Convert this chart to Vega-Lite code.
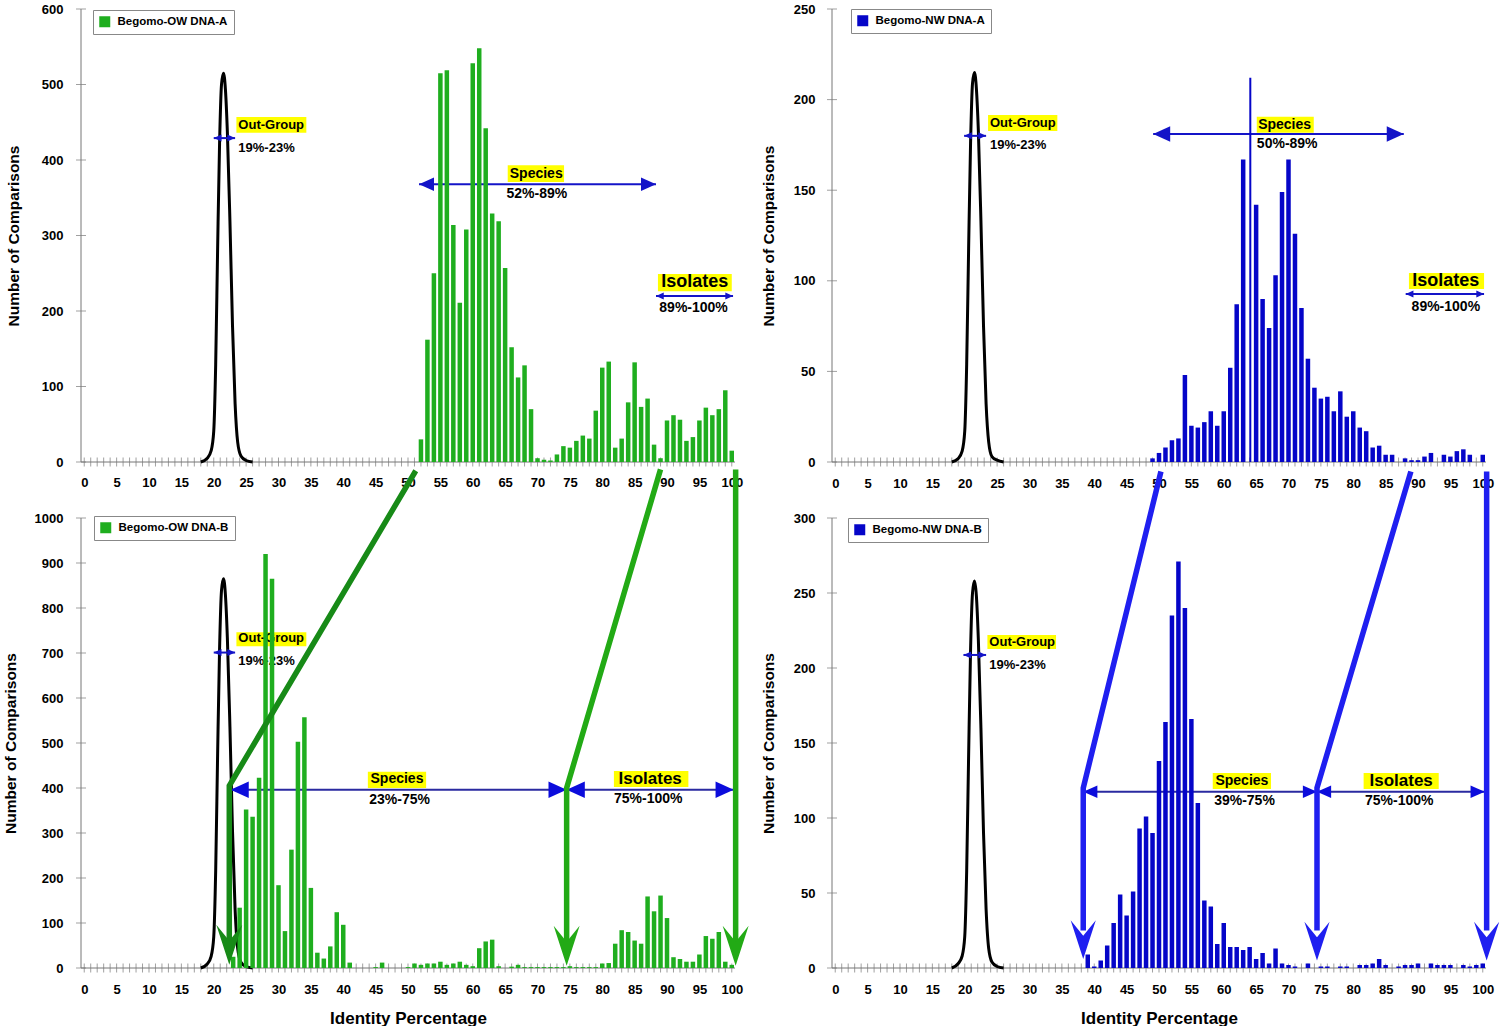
{
  "$schema": "https://vega.github.io/schema/vega-lite/v6.json",
  "padding": {"left": 3, "top": 3, "right": 0, "bottom": 0},
  "background": "white",
  "datasets": {
    "xt": [
      {"x": 0}, {"x": 1}, {"x": 2}, {"x": 3}, {"x": 4}, {"x": 5}, {"x": 6}, {"x": 7}, {"x": 8}, {"x": 9},
      {"x": 10}, {"x": 11}, {"x": 12}, {"x": 13}, {"x": 14}, {"x": 15}, {"x": 16}, {"x": 17}, {"x": 18}, {"x": 19},
      {"x": 20}, {"x": 21}, {"x": 22}, {"x": 23}, {"x": 24}, {"x": 25}, {"x": 26}, {"x": 27}, {"x": 28}, {"x": 29},
      {"x": 30}, {"x": 31}, {"x": 32}, {"x": 33}, {"x": 34}, {"x": 35}, {"x": 36}, {"x": 37}, {"x": 38}, {"x": 39},
      {"x": 40}, {"x": 41}, {"x": 42}, {"x": 43}, {"x": 44}, {"x": 45}, {"x": 46}, {"x": 47}, {"x": 48}, {"x": 49},
      {"x": 50}, {"x": 51}, {"x": 52}, {"x": 53}, {"x": 54}, {"x": 55}, {"x": 56}, {"x": 57}, {"x": 58}, {"x": 59},
      {"x": 60}, {"x": 61}, {"x": 62}, {"x": 63}, {"x": 64}, {"x": 65}, {"x": 66}, {"x": 67}, {"x": 68}, {"x": 69},
      {"x": 70}, {"x": 71}, {"x": 72}, {"x": 73}, {"x": 74}, {"x": 75}, {"x": 76}, {"x": 77}, {"x": 78}, {"x": 79},
      {"x": 80}, {"x": 81}, {"x": 82}, {"x": 83}, {"x": 84}, {"x": 85}, {"x": 86}, {"x": 87}, {"x": 88}, {"x": 89},
      {"x": 90}, {"x": 91}, {"x": 92}, {"x": 93}, {"x": 94}, {"x": 95}, {"x": 96}, {"x": 97}, {"x": 98}, {"x": 99},
      {"x": 100}
    ],
    "yt": [
      {"p": "TL", "y": 0}, {"p": "TL", "y": 100}, {"p": "TL", "y": 200}, {"p": "TL", "y": 300}, {"p": "TL", "y": 400}, {"p": "TL", "y": 500}, {"p": "TL", "y": 600},
      {"p": "TR", "y": 0}, {"p": "TR", "y": 50}, {"p": "TR", "y": 100}, {"p": "TR", "y": 150}, {"p": "TR", "y": 200}, {"p": "TR", "y": 250},
      {"p": "BL", "y": 0}, {"p": "BL", "y": 100}, {"p": "BL", "y": 200}, {"p": "BL", "y": 300}, {"p": "BL", "y": 400}, {"p": "BL", "y": 500},
      {"p": "BL", "y": 600}, {"p": "BL", "y": 700}, {"p": "BL", "y": 800}, {"p": "BL", "y": 900}, {"p": "BL", "y": 1000},
      {"p": "BR", "y": 0}, {"p": "BR", "y": 50}, {"p": "BR", "y": 100}, {"p": "BR", "y": 150}, {"p": "BR", "y": 200}, {"p": "BR", "y": 250}, {"p": "BR", "y": 300}
    ],
    "bars": [
      {"p": "TL", "x": 52, "y": 30}, {"p": "TL", "x": 53, "y": 162}, {"p": "TL", "x": 54, "y": 250}, {"p": "TL", "x": 55, "y": 515},
      {"p": "TL", "x": 56, "y": 519}, {"p": "TL", "x": 57, "y": 314}, {"p": "TL", "x": 58, "y": 211}, {"p": "TL", "x": 59, "y": 308},
      {"p": "TL", "x": 60, "y": 528}, {"p": "TL", "x": 61, "y": 548}, {"p": "TL", "x": 62, "y": 442}, {"p": "TL", "x": 63, "y": 329},
      {"p": "TL", "x": 64, "y": 319}, {"p": "TL", "x": 65, "y": 257}, {"p": "TL", "x": 66, "y": 152}, {"p": "TL", "x": 67, "y": 112},
      {"p": "TL", "x": 68, "y": 128}, {"p": "TL", "x": 69, "y": 70}, {"p": "TL", "x": 70, "y": 5}, {"p": "TL", "x": 71, "y": 3},
      {"p": "TL", "x": 72, "y": 2}, {"p": "TL", "x": 73, "y": 10}, {"p": "TL", "x": 74, "y": 21}, {"p": "TL", "x": 75, "y": 19},
      {"p": "TL", "x": 76, "y": 28}, {"p": "TL", "x": 77, "y": 35}, {"p": "TL", "x": 78, "y": 31}, {"p": "TL", "x": 79, "y": 68},
      {"p": "TL", "x": 80, "y": 125}, {"p": "TL", "x": 81, "y": 133}, {"p": "TL", "x": 82, "y": 19}, {"p": "TL", "x": 83, "y": 31},
      {"p": "TL", "x": 84, "y": 79}, {"p": "TL", "x": 85, "y": 132}, {"p": "TL", "x": 86, "y": 73}, {"p": "TL", "x": 87, "y": 84},
      {"p": "TL", "x": 88, "y": 23}, {"p": "TL", "x": 89, "y": 5}, {"p": "TL", "x": 90, "y": 55}, {"p": "TL", "x": 91, "y": 62},
      {"p": "TL", "x": 92, "y": 56}, {"p": "TL", "x": 93, "y": 28}, {"p": "TL", "x": 94, "y": 33}, {"p": "TL", "x": 95, "y": 55},
      {"p": "TL", "x": 96, "y": 72}, {"p": "TL", "x": 97, "y": 62}, {"p": "TL", "x": 98, "y": 70}, {"p": "TL", "x": 99, "y": 95},
      {"p": "TL", "x": 100, "y": 15},
      {"p": "TR", "x": 49, "y": 2}, {"p": "TR", "x": 50, "y": 5}, {"p": "TR", "x": 51, "y": 8}, {"p": "TR", "x": 52, "y": 12},
      {"p": "TR", "x": 53, "y": 13}, {"p": "TR", "x": 54, "y": 48}, {"p": "TR", "x": 55, "y": 20}, {"p": "TR", "x": 56, "y": 19},
      {"p": "TR", "x": 57, "y": 22}, {"p": "TR", "x": 58, "y": 28}, {"p": "TR", "x": 59, "y": 20}, {"p": "TR", "x": 60, "y": 28},
      {"p": "TR", "x": 61, "y": 52}, {"p": "TR", "x": 62, "y": 87}, {"p": "TR", "x": 63, "y": 167}, {"p": "TR", "x": 65, "y": 142},
      {"p": "TR", "x": 66, "y": 90}, {"p": "TR", "x": 67, "y": 74}, {"p": "TR", "x": 68, "y": 103}, {"p": "TR", "x": 69, "y": 149},
      {"p": "TR", "x": 70, "y": 167}, {"p": "TR", "x": 71, "y": 126}, {"p": "TR", "x": 72, "y": 85}, {"p": "TR", "x": 73, "y": 57},
      {"p": "TR", "x": 74, "y": 41}, {"p": "TR", "x": 75, "y": 35}, {"p": "TR", "x": 76, "y": 36}, {"p": "TR", "x": 77, "y": 28},
      {"p": "TR", "x": 78, "y": 39}, {"p": "TR", "x": 79, "y": 25}, {"p": "TR", "x": 80, "y": 28}, {"p": "TR", "x": 81, "y": 19},
      {"p": "TR", "x": 82, "y": 17}, {"p": "TR", "x": 83, "y": 8}, {"p": "TR", "x": 84, "y": 9}, {"p": "TR", "x": 85, "y": 4},
      {"p": "TR", "x": 86, "y": 4}, {"p": "TR", "x": 88, "y": 2}, {"p": "TR", "x": 89, "y": 1}, {"p": "TR", "x": 90, "y": 1},
      {"p": "TR", "x": 91, "y": 3}, {"p": "TR", "x": 92, "y": 5}, {"p": "TR", "x": 94, "y": 4}, {"p": "TR", "x": 95, "y": 3},
      {"p": "TR", "x": 96, "y": 6}, {"p": "TR", "x": 97, "y": 7}, {"p": "TR", "x": 98, "y": 4}, {"p": "TR", "x": 100, "y": 4},
      {"p": "BL", "x": 23, "y": 25}, {"p": "BL", "x": 24, "y": 134}, {"p": "BL", "x": 25, "y": 352}, {"p": "BL", "x": 26, "y": 336},
      {"p": "BL", "x": 27, "y": 423}, {"p": "BL", "x": 28, "y": 920}, {"p": "BL", "x": 29, "y": 865}, {"p": "BL", "x": 30, "y": 184},
      {"p": "BL", "x": 31, "y": 82}, {"p": "BL", "x": 32, "y": 263}, {"p": "BL", "x": 33, "y": 503}, {"p": "BL", "x": 34, "y": 557},
      {"p": "BL", "x": 35, "y": 178}, {"p": "BL", "x": 36, "y": 34}, {"p": "BL", "x": 37, "y": 21}, {"p": "BL", "x": 38, "y": 48},
      {"p": "BL", "x": 39, "y": 124}, {"p": "BL", "x": 40, "y": 96}, {"p": "BL", "x": 41, "y": 12}, {"p": "BL", "x": 45, "y": 2},
      {"p": "BL", "x": 46, "y": 12}, {"p": "BL", "x": 50, "y": 2}, {"p": "BL", "x": 51, "y": 10}, {"p": "BL", "x": 52, "y": 7},
      {"p": "BL", "x": 53, "y": 10}, {"p": "BL", "x": 54, "y": 10}, {"p": "BL", "x": 55, "y": 14}, {"p": "BL", "x": 56, "y": 7},
      {"p": "BL", "x": 57, "y": 10}, {"p": "BL", "x": 58, "y": 14}, {"p": "BL", "x": 59, "y": 7}, {"p": "BL", "x": 60, "y": 4},
      {"p": "BL", "x": 61, "y": 44}, {"p": "BL", "x": 62, "y": 59}, {"p": "BL", "x": 63, "y": 63}, {"p": "BL", "x": 64, "y": 4},
      {"p": "BL", "x": 66, "y": 3}, {"p": "BL", "x": 67, "y": 7}, {"p": "BL", "x": 68, "y": 2}, {"p": "BL", "x": 69, "y": 2},
      {"p": "BL", "x": 70, "y": 2}, {"p": "BL", "x": 71, "y": 2}, {"p": "BL", "x": 72, "y": 2}, {"p": "BL", "x": 73, "y": 2},
      {"p": "BL", "x": 74, "y": 2}, {"p": "BL", "x": 75, "y": 4}, {"p": "BL", "x": 76, "y": 2}, {"p": "BL", "x": 77, "y": 2},
      {"p": "BL", "x": 78, "y": 2}, {"p": "BL", "x": 79, "y": 2}, {"p": "BL", "x": 80, "y": 10}, {"p": "BL", "x": 81, "y": 11},
      {"p": "BL", "x": 82, "y": 54}, {"p": "BL", "x": 83, "y": 84}, {"p": "BL", "x": 84, "y": 80}, {"p": "BL", "x": 85, "y": 61},
      {"p": "BL", "x": 86, "y": 54}, {"p": "BL", "x": 87, "y": 159}, {"p": "BL", "x": 88, "y": 126}, {"p": "BL", "x": 89, "y": 161},
      {"p": "BL", "x": 90, "y": 111}, {"p": "BL", "x": 91, "y": 24}, {"p": "BL", "x": 92, "y": 20}, {"p": "BL", "x": 93, "y": 14},
      {"p": "BL", "x": 94, "y": 14}, {"p": "BL", "x": 95, "y": 30}, {"p": "BL", "x": 96, "y": 71}, {"p": "BL", "x": 97, "y": 65},
      {"p": "BL", "x": 98, "y": 80}, {"p": "BL", "x": 99, "y": 14}, {"p": "BL", "x": 100, "y": 7},
      {"p": "BR", "x": 39, "y": 9}, {"p": "BR", "x": 40, "y": 1}, {"p": "BR", "x": 41, "y": 5}, {"p": "BR", "x": 42, "y": 15},
      {"p": "BR", "x": 43, "y": 30}, {"p": "BR", "x": 44, "y": 49}, {"p": "BR", "x": 45, "y": 35}, {"p": "BR", "x": 46, "y": 51},
      {"p": "BR", "x": 47, "y": 93}, {"p": "BR", "x": 48, "y": 101}, {"p": "BR", "x": 49, "y": 90}, {"p": "BR", "x": 50, "y": 138},
      {"p": "BR", "x": 51, "y": 164}, {"p": "BR", "x": 52, "y": 235}, {"p": "BR", "x": 53, "y": 271}, {"p": "BR", "x": 54, "y": 240},
      {"p": "BR", "x": 55, "y": 166}, {"p": "BR", "x": 56, "y": 110}, {"p": "BR", "x": 57, "y": 45}, {"p": "BR", "x": 58, "y": 41},
      {"p": "BR", "x": 59, "y": 16}, {"p": "BR", "x": 60, "y": 30}, {"p": "BR", "x": 61, "y": 14}, {"p": "BR", "x": 62, "y": 14},
      {"p": "BR", "x": 63, "y": 12}, {"p": "BR", "x": 64, "y": 14}, {"p": "BR", "x": 65, "y": 6}, {"p": "BR", "x": 66, "y": 10},
      {"p": "BR", "x": 67, "y": 3}, {"p": "BR", "x": 68, "y": 13}, {"p": "BR", "x": 69, "y": 3}, {"p": "BR", "x": 70, "y": 2},
      {"p": "BR", "x": 71, "y": 1}, {"p": "BR", "x": 73, "y": 3}, {"p": "BR", "x": 75, "y": 1}, {"p": "BR", "x": 76, "y": 1},
      {"p": "BR", "x": 78, "y": 1}, {"p": "BR", "x": 79, "y": 1}, {"p": "BR", "x": 81, "y": 2}, {"p": "BR", "x": 82, "y": 2},
      {"p": "BR", "x": 83, "y": 3}, {"p": "BR", "x": 84, "y": 6}, {"p": "BR", "x": 85, "y": 2}, {"p": "BR", "x": 87, "y": 1},
      {"p": "BR", "x": 88, "y": 2}, {"p": "BR", "x": 89, "y": 2}, {"p": "BR", "x": 90, "y": 3}, {"p": "BR", "x": 92, "y": 3},
      {"p": "BR", "x": 93, "y": 2}, {"p": "BR", "x": 94, "y": 2}, {"p": "BR", "x": 95, "y": 2}, {"p": "BR", "x": 97, "y": 2},
      {"p": "BR", "x": 98, "y": 1}, {"p": "BR", "x": 99, "y": 2}, {"p": "BR", "x": 100, "y": 3}
    ],
    "curve": [
      {"p": "TL", "x": 18, "y": 0}, {"p": "TL", "x": 19, "y": 5}, {"p": "TL", "x": 19.6, "y": 15}, {"p": "TL", "x": 20, "y": 41},
      {"p": "TL", "x": 20.3, "y": 129}, {"p": "TL", "x": 20.6, "y": 283}, {"p": "TL", "x": 20.9, "y": 422}, {"p": "TL", "x": 21.2, "y": 500},
      {"p": "TL", "x": 21.5, "y": 515}, {"p": "TL", "x": 21.8, "y": 494}, {"p": "TL", "x": 22.1, "y": 438}, {"p": "TL", "x": 22.5, "y": 319},
      {"p": "TL", "x": 22.9, "y": 180}, {"p": "TL", "x": 23.3, "y": 77}, {"p": "TL", "x": 23.7, "y": 26}, {"p": "TL", "x": 24.2, "y": 8},
      {"p": "TL", "x": 25, "y": 2}, {"p": "TL", "x": 26, "y": 0},
      {"p": "TR", "x": 18, "y": 0}, {"p": "TR", "x": 19, "y": 2}, {"p": "TR", "x": 19.6, "y": 6}, {"p": "TR", "x": 20, "y": 17},
      {"p": "TR", "x": 20.3, "y": 54}, {"p": "TR", "x": 20.6, "y": 118}, {"p": "TR", "x": 20.9, "y": 176}, {"p": "TR", "x": 21.2, "y": 209},
      {"p": "TR", "x": 21.5, "y": 215}, {"p": "TR", "x": 21.8, "y": 206}, {"p": "TR", "x": 22.1, "y": 183}, {"p": "TR", "x": 22.5, "y": 133},
      {"p": "TR", "x": 22.9, "y": 75}, {"p": "TR", "x": 23.3, "y": 32}, {"p": "TR", "x": 23.7, "y": 11}, {"p": "TR", "x": 24.2, "y": 3},
      {"p": "TR", "x": 25, "y": 1}, {"p": "TR", "x": 26, "y": 0},
      {"p": "BL", "x": 18, "y": 0}, {"p": "BL", "x": 19, "y": 9}, {"p": "BL", "x": 19.6, "y": 26}, {"p": "BL", "x": 20, "y": 69},
      {"p": "BL", "x": 20.3, "y": 216}, {"p": "BL", "x": 20.6, "y": 476}, {"p": "BL", "x": 20.9, "y": 709}, {"p": "BL", "x": 21.2, "y": 839},
      {"p": "BL", "x": 21.5, "y": 865}, {"p": "BL", "x": 21.8, "y": 830}, {"p": "BL", "x": 22.1, "y": 735}, {"p": "BL", "x": 22.5, "y": 536},
      {"p": "BL", "x": 22.9, "y": 303}, {"p": "BL", "x": 23.3, "y": 130}, {"p": "BL", "x": 23.7, "y": 43}, {"p": "BL", "x": 24.2, "y": 13},
      {"p": "BL", "x": 25, "y": 3}, {"p": "BL", "x": 26, "y": 0},
      {"p": "BR", "x": 18, "y": 0}, {"p": "BR", "x": 19, "y": 3}, {"p": "BR", "x": 19.6, "y": 8}, {"p": "BR", "x": 20, "y": 21},
      {"p": "BR", "x": 20.3, "y": 65}, {"p": "BR", "x": 20.6, "y": 142}, {"p": "BR", "x": 20.9, "y": 212}, {"p": "BR", "x": 21.2, "y": 250},
      {"p": "BR", "x": 21.5, "y": 258}, {"p": "BR", "x": 21.8, "y": 248}, {"p": "BR", "x": 22.1, "y": 219}, {"p": "BR", "x": 22.5, "y": 160},
      {"p": "BR", "x": 22.9, "y": 90}, {"p": "BR", "x": 23.3, "y": 39}, {"p": "BR", "x": 23.7, "y": 13}, {"p": "BR", "x": 24.2, "y": 4},
      {"p": "BR", "x": 25, "y": 1}, {"p": "BR", "x": 26, "y": 0}
    ],
    "spans": [
      {"p": "TL", "k": "out", "x": 20.0, "x2": 23.3, "y": 429},
      {"p": "TL", "k": "sp", "x": 51.7, "x2": 88.3, "y": 368},
      {"p": "TL", "k": "iso", "x": 88.3, "x2": 100.2, "y": 220},
      {"p": "TR", "k": "out", "x": 19.9, "x2": 23.3, "y": 180},
      {"p": "TR", "k": "sp", "x": 49.1, "x2": 87.8, "y": 181},
      {"p": "TR", "k": "iso", "x": 88.1, "x2": 100.2, "y": 92.7},
      {"p": "BL", "k": "out", "x": 20.0, "x2": 23.3, "y": 701},
      {"p": "BL", "k": "sp", "x": 22.6, "x2": 74.5, "y": 396},
      {"p": "BL", "k": "iso", "x": 74.5, "x2": 100.3, "y": 396},
      {"p": "BR", "k": "out", "x": 19.8, "x2": 23.3, "y": 208.7},
      {"p": "BR", "k": "sp", "x": 38.3, "x2": 74.4, "y": 117.5},
      {"p": "BR", "k": "iso", "x": 74.4, "x2": 100.3, "y": 117.5}
    ],
    "boxes": [
      {"p": "TL", "x": 23.5, "x2": 34.3, "y": 436, "y2": 457},
      {"p": "TL", "x": 65.4, "x2": 74.1, "y": 371, "y2": 393},
      {"p": "TL", "x": 88.6, "x2": 100, "y": 226, "y2": 249},
      {"p": "TR", "x": 23.6, "x2": 34.3, "y": 182.7, "y2": 191.5},
      {"p": "TR", "x": 65.1, "x2": 73.9, "y": 181.7, "y2": 190.6},
      {"p": "TR", "x": 88.6, "x2": 100.2, "y": 95.5, "y2": 104.3},
      {"p": "BL", "x": 23.5, "x2": 34.3, "y": 715, "y2": 746},
      {"p": "BL", "x": 43.8, "x2": 52.8, "y": 400, "y2": 436},
      {"p": "BL", "x": 81.8, "x2": 93.3, "y": 402, "y2": 438},
      {"p": "BR", "x": 23.5, "x2": 34.1, "y": 212.7, "y2": 222},
      {"p": "BR", "x": 58.3, "x2": 67.3, "y": 119.3, "y2": 130},
      {"p": "BR", "x": 81.6, "x2": 93.2, "y": 119.3, "y2": 130}
    ],
    "notes": [
      {"p": "TL", "k": "og", "x": 23.8, "y": 446, "t": "Out-Group"},
      {"p": "TL", "k": "ogr", "x": 23.8, "y": 416, "t": "19%-23%"},
      {"p": "TL", "k": "sp", "x": 69.8, "y": 382, "t": "Species"},
      {"p": "TL", "k": "spr", "x": 69.9, "y": 355, "t": "52%-89%"},
      {"p": "TL", "k": "iso", "x": 94.3, "y": 238, "t": "Isolates"},
      {"p": "TL", "k": "isor", "x": 94.1, "y": 204, "t": "89%-100%"},
      {"p": "TR", "k": "og", "x": 23.9, "y": 187, "t": "Out-Group"},
      {"p": "TR", "k": "ogr", "x": 23.9, "y": 175, "t": "19%-23%"},
      {"p": "TR", "k": "sp", "x": 69.4, "y": 186, "t": "Species"},
      {"p": "TR", "k": "spr", "x": 69.8, "y": 175.5, "t": "50%-89%"},
      {"p": "TR", "k": "iso", "x": 94.3, "y": 100, "t": "Isolates"},
      {"p": "TR", "k": "isor", "x": 94.3, "y": 85.7, "t": "89%-100%"},
      {"p": "BL", "k": "og", "x": 23.8, "y": 733, "t": "Out-Group"},
      {"p": "BL", "k": "ogr", "x": 23.8, "y": 681.5, "t": "19%-23%"},
      {"p": "BL", "k": "sp", "x": 48.3, "y": 419, "t": "Species"},
      {"p": "BL", "k": "spr", "x": 48.7, "y": 374, "t": "23%-75%"},
      {"p": "BL", "k": "iso", "x": 87.4, "y": 420, "t": "Isolates"},
      {"p": "BL", "k": "isor", "x": 87.1, "y": 376, "t": "75%-100%"},
      {"p": "BR", "k": "og", "x": 23.8, "y": 217.5, "t": "Out-Group"},
      {"p": "BR", "k": "ogr", "x": 23.8, "y": 202, "t": "19%-23%"},
      {"p": "BR", "k": "sp", "x": 62.8, "y": 124.7, "t": "Species"},
      {"p": "BR", "k": "spr", "x": 63.2, "y": 111.3, "t": "39%-75%"},
      {"p": "BR", "k": "iso", "x": 87.4, "y": 124.7, "t": "Isolates"},
      {"p": "BR", "k": "isor", "x": 87.1, "y": 111.3, "t": "75%-100%"}
    ],
    "jumps": [
      {"p": "BL", "id": "a", "s": 0, "x": 51.2, "y": 1105}, {"p": "BL", "id": "a", "s": 1, "x": 22.4, "y": 405}, {"p": "BL", "id": "a", "s": 2, "x": 22.4, "y": 50},
      {"p": "BL", "id": "b", "s": 0, "x": 89.0, "y": 1108}, {"p": "BL", "id": "b", "s": 1, "x": 74.5, "y": 400}, {"p": "BL", "id": "b", "s": 2, "x": 74.5, "y": 50},
      {"p": "BL", "id": "c", "s": 0, "x": 100.6, "y": 1108}, {"p": "BL", "id": "c", "s": 1, "x": 100.6, "y": 50},
      {"p": "BR", "id": "a", "s": 0, "x": 50.3, "y": 331}, {"p": "BR", "id": "a", "s": 1, "x": 38.3, "y": 120}, {"p": "BR", "id": "a", "s": 2, "x": 38.3, "y": 25},
      {"p": "BR", "id": "b", "s": 0, "x": 88.9, "y": 331}, {"p": "BR", "id": "b", "s": 1, "x": 74.4, "y": 120}, {"p": "BR", "id": "b", "s": 2, "x": 74.4, "y": 25},
      {"p": "BR", "id": "c", "s": 0, "x": 100.6, "y": 331}, {"p": "BR", "id": "c", "s": 1, "x": 100.6, "y": 25}
    ],
    "tips": [
      {"p": "BL", "id": "a", "x": 22.4, "y": 7}, {"p": "BL", "id": "b", "x": 74.5, "y": 5}, {"p": "BL", "id": "c", "x": 100.6, "y": 5},
      {"p": "BR", "id": "a", "x": 38.3, "y": 6}, {"p": "BR", "id": "b", "x": 74.4, "y": 5}, {"p": "BR", "id": "c", "x": 100.6, "y": 5}
    ]
  },
  "columns": 2,
  "spacing": {"row": 56, "column": 97},
  "bounds": "flush",
  "resolve": {"scale": {"color": "independent"}, "legend": {"color": "independent"}},
  "concat": [
    {
      "width": 654,
      "height": 453,
      "layer": [
        {
          "data": {"values": [{}]},
          "mark": {"type": "rule", "color": "#777777", "strokeWidth": 1},
          "encoding": {
            "x": {"datum": -0.5, "type": "quantitative", "scale": {"domain": [-0.5, 100.5], "nice": false, "zero": false, "padding": 0},
              "axis": {"values": [0,5,10,15,20,25,30,35,40,45,50,55,60,65,70,75,80,85,90,95,100], "tickCount": 200, "format": "d", "ticks": false, "tickSize": 0, "labelPadding": 14, "labelFlush": false, "labelOverlap": false, "title": null}},
            "x2": {"datum": 100.5},
            "y": {"datum": 0, "type": "quantitative", "scale": {"domain": [0, 600], "nice": false, "padding": 0},
              "axis": {"values": [0, 100, 200, 300, 400, 500, 600], "tickCount": 200, "format": "d", "ticks": false, "tickSize": 0, "labelPadding": 18, "labelOverlap": false, "title": "Number of Comparisons", "titlePadding": 19.5}}
          }
        },
        {
          "data": {"values": [{}]},
          "mark": {"type": "rule", "color": "#777777", "strokeWidth": 1},
          "encoding": {"x": {"datum": -0.5, "type": "quantitative"}, "y": {"datum": 0, "type": "quantitative"}, "y2": {"datum": 600}}
        },
        {
          "data": {"name": "xt"},
          "mark": {"type": "tick", "orient": "vertical", "size": 9, "thickness": 1, "color": "#777777"},
          "encoding": {"x": {"field": "x", "type": "quantitative"}, "y": {"datum": 0, "type": "quantitative"}}
        },
        {
          "data": {"name": "yt"}, "transform": [{"filter": "datum.p === 'TL'"}],
          "mark": {"type": "tick", "orient": "horizontal", "size": 10, "thickness": 1, "color": "#777777"},
          "encoding": {"x": {"datum": -0.5, "type": "quantitative"}, "y": {"field": "y", "type": "quantitative"}}
        },
        {
          "data": {"name": "boxes"}, "transform": [{"filter": "datum.p === 'TL'"}],
          "mark": {"type": "rect", "color": "#ffff00"},
          "encoding": {"x": {"field": "x", "type": "quantitative"}, "x2": {"field": "x2"}, "y": {"field": "y", "type": "quantitative"}, "y2": {"field": "y2"}}
        },
        {
          "data": {"name": "curve"}, "transform": [{"filter": "datum.p === 'TL'"}],
          "mark": {"type": "line", "color": "#000000", "strokeWidth": 3, "interpolate": "monotone"},
          "encoding": {"x": {"field": "x", "type": "quantitative"}, "y": {"field": "y", "type": "quantitative"}}
        },
        {
          "data": {"name": "spans"}, "transform": [{"filter": "datum.p === 'TL'"}],
          "mark": {"type": "rule", "color": "#1414c8", "strokeWidth": 2},
          "encoding": {"x": {"field": "x", "type": "quantitative"}, "x2": {"field": "x2"}, "y": {"field": "y", "type": "quantitative"}}
        },
        {
          "data": {"name": "spans"}, "transform": [{"filter": "datum.p === 'TL' && datum.k !== 'sp'"}, {"fold": ["x", "x2"], "as": ["side", "hx"]}],
          "mark": {"type": "point", "filled": true, "opacity": 1, "color": "#1414c8", "size": 60},
          "encoding": {"x": {"field": "hx", "type": "quantitative"}, "y": {"field": "y", "type": "quantitative"},
            "shape": {"field": "side", "type": "nominal", "scale": {"domain": ["x", "x2"], "range": ["M0,0L2,-0.9L2,0.9Z", "M0,0L-2,-0.9L-2,0.9Z"]}, "legend": null}}
        },
        {
          "data": {"name": "spans"}, "transform": [{"filter": "datum.p === 'TL' && datum.k === 'sp'"}, {"fold": ["x", "x2"], "as": ["side", "hx"]}],
          "mark": {"type": "point", "filled": true, "opacity": 1, "color": "#1414c8", "size": 225},
          "encoding": {"x": {"field": "hx", "type": "quantitative"}, "y": {"field": "y", "type": "quantitative"},
            "shape": {"field": "side", "type": "nominal", "scale": {"domain": ["x", "x2"], "range": ["M0,0L2,-0.65L2,0.65Z", "M0,0L-2,-0.65L-2,0.65Z"]}, "legend": null}}
        },
        {
          "data": {"name": "notes"}, "transform": [{"filter": "datum.p === 'TL' && (datum.k === 'og' || datum.k === 'ogr')"}],
          "mark": {"type": "text", "align": "left", "baseline": "middle", "font": "Liberation Sans", "fontWeight": "bold", "fontSize": 13, "color": "#000000"},
          "encoding": {"x": {"field": "x", "type": "quantitative"}, "y": {"field": "y", "type": "quantitative"}, "text": {"field": "t"}}
        },
        {
          "data": {"name": "notes"}, "transform": [{"filter": "datum.p === 'TL' && (datum.k === 'sp' || datum.k === 'spr' || datum.k === 'isor')"}],
          "mark": {"type": "text", "align": "center", "baseline": "middle", "font": "Liberation Sans", "fontWeight": "bold", "fontSize": 14, "color": "#000000"},
          "encoding": {"x": {"field": "x", "type": "quantitative"}, "y": {"field": "y", "type": "quantitative"}, "text": {"field": "t"}}
        },
        {
          "data": {"name": "notes"}, "transform": [{"filter": "datum.p === 'TL' && datum.k === 'iso'"}],
          "mark": {"type": "text", "align": "center", "baseline": "middle", "font": "Liberation Sans", "fontWeight": "bold", "fontSize": 18, "color": "#000000"},
          "encoding": {"x": {"field": "x", "type": "quantitative"}, "y": {"field": "y", "type": "quantitative"}, "text": {"field": "t"}}
        },
        {
          "data": {"name": "bars"}, "transform": [{"filter": "datum.p === 'TL'"}],
          "mark": {"type": "bar", "size": 4.5},
          "encoding": {"x": {"field": "x", "type": "quantitative"}, "y": {"field": "y", "type": "quantitative"},
            "color": {"datum": "Begomo-OW DNA-A", "type": "nominal", "scale": {"range": ["#1fae1f"]}, "legend": {"orient": "none", "legendX": 12, "legendY": 1, "title": null}}}
        }
      ]
    },
    {
      "width": 654,
      "height": 453,
      "layer": [
        {
          "data": {"values": [{}]},
          "mark": {"type": "rule", "color": "#777777", "strokeWidth": 1},
          "encoding": {
            "x": {"datum": -0.5, "type": "quantitative", "scale": {"domain": [-0.5, 100.5], "nice": false, "zero": false, "padding": 0},
              "axis": {"values": [0,5,10,15,20,25,30,35,40,45,50,55,60,65,70,75,80,85,90,95,100], "tickCount": 200, "format": "d", "ticks": false, "tickSize": 0, "labelPadding": 15, "labelFlush": false, "labelOverlap": false, "title": null}},
            "x2": {"datum": 100.5},
            "y": {"datum": 0, "type": "quantitative", "scale": {"domain": [0, 250], "nice": false, "padding": 0},
              "axis": {"values": [0, 50, 100, 150, 200, 250], "tickCount": 200, "format": "d", "ticks": false, "tickSize": 0, "labelPadding": 17, "labelOverlap": false, "title": "Number of Comparisons", "titlePadding": 17}}
          }
        },
        {
          "data": {"values": [{}]},
          "mark": {"type": "rule", "color": "#777777", "strokeWidth": 1},
          "encoding": {"x": {"datum": -0.5, "type": "quantitative"}, "y": {"datum": 0, "type": "quantitative"}, "y2": {"datum": 250}}
        },
        {
          "data": {"name": "xt"},
          "mark": {"type": "tick", "orient": "vertical", "size": 9, "thickness": 1, "color": "#777777"},
          "encoding": {"x": {"field": "x", "type": "quantitative"}, "y": {"datum": 0, "type": "quantitative"}}
        },
        {
          "data": {"name": "yt"}, "transform": [{"filter": "datum.p === 'TR'"}],
          "mark": {"type": "tick", "orient": "horizontal", "size": 10, "thickness": 1, "color": "#777777"},
          "encoding": {"x": {"datum": -0.5, "type": "quantitative"}, "y": {"field": "y", "type": "quantitative"}}
        },
        {
          "data": {"name": "boxes"}, "transform": [{"filter": "datum.p === 'TR'"}],
          "mark": {"type": "rect", "color": "#ffff00"},
          "encoding": {"x": {"field": "x", "type": "quantitative"}, "x2": {"field": "x2"}, "y": {"field": "y", "type": "quantitative"}, "y2": {"field": "y2"}}
        },
        {
          "data": {"name": "curve"}, "transform": [{"filter": "datum.p === 'TR'"}],
          "mark": {"type": "line", "color": "#000000", "strokeWidth": 3, "interpolate": "monotone"},
          "encoding": {"x": {"field": "x", "type": "quantitative"}, "y": {"field": "y", "type": "quantitative"}}
        },
        {
          "data": {"name": "spans"}, "transform": [{"filter": "datum.p === 'TR'"}],
          "mark": {"type": "rule", "color": "#1414c8", "strokeWidth": 2},
          "encoding": {"x": {"field": "x", "type": "quantitative"}, "x2": {"field": "x2"}, "y": {"field": "y", "type": "quantitative"}}
        },
        {
          "data": {"name": "spans"}, "transform": [{"filter": "datum.p === 'TR' && datum.k !== 'sp'"}, {"fold": ["x", "x2"], "as": ["side", "hx"]}],
          "mark": {"type": "point", "filled": true, "opacity": 1, "color": "#1414c8", "size": 60},
          "encoding": {"x": {"field": "hx", "type": "quantitative"}, "y": {"field": "y", "type": "quantitative"},
            "shape": {"field": "side", "type": "nominal", "scale": {"domain": ["x", "x2"], "range": ["M0,0L2,-0.9L2,0.9Z", "M0,0L-2,-0.9L-2,0.9Z"]}, "legend": null}}
        },
        {
          "data": {"name": "spans"}, "transform": [{"filter": "datum.p === 'TR' && datum.k === 'sp'"}, {"fold": ["x", "x2"], "as": ["side", "hx"]}],
          "mark": {"type": "point", "filled": true, "opacity": 1, "color": "#1414c8", "size": 290},
          "encoding": {"x": {"field": "hx", "type": "quantitative"}, "y": {"field": "y", "type": "quantitative"},
            "shape": {"field": "side", "type": "nominal", "scale": {"domain": ["x", "x2"], "range": ["M0,0L2,-0.65L2,0.65Z", "M0,0L-2,-0.65L-2,0.65Z"]}, "legend": null}}
        },
        {
          "data": {"name": "notes"}, "transform": [{"filter": "datum.p === 'TR' && (datum.k === 'og' || datum.k === 'ogr')"}],
          "mark": {"type": "text", "align": "left", "baseline": "middle", "font": "Liberation Sans", "fontWeight": "bold", "fontSize": 13, "color": "#000000"},
          "encoding": {"x": {"field": "x", "type": "quantitative"}, "y": {"field": "y", "type": "quantitative"}, "text": {"field": "t"}}
        },
        {
          "data": {"name": "notes"}, "transform": [{"filter": "datum.p === 'TR' && (datum.k === 'sp' || datum.k === 'spr' || datum.k === 'isor')"}],
          "mark": {"type": "text", "align": "center", "baseline": "middle", "font": "Liberation Sans", "fontWeight": "bold", "fontSize": 14, "color": "#000000"},
          "encoding": {"x": {"field": "x", "type": "quantitative"}, "y": {"field": "y", "type": "quantitative"}, "text": {"field": "t"}}
        },
        {
          "data": {"name": "notes"}, "transform": [{"filter": "datum.p === 'TR' && datum.k === 'iso'"}],
          "mark": {"type": "text", "align": "center", "baseline": "middle", "font": "Liberation Sans", "fontWeight": "bold", "fontSize": 18, "color": "#000000"},
          "encoding": {"x": {"field": "x", "type": "quantitative"}, "y": {"field": "y", "type": "quantitative"}, "text": {"field": "t"}}
        },
        {
          "data": {"name": "bars"}, "transform": [{"filter": "datum.p === 'TR'"}],
          "mark": {"type": "bar", "size": 4.5},
          "encoding": {"x": {"field": "x", "type": "quantitative"}, "y": {"field": "y", "type": "quantitative"},
            "color": {"datum": "Begomo-NW DNA-A", "type": "nominal", "scale": {"range": ["#0505c8"]}, "legend": {"orient": "none", "legendX": 19, "legendY": 0, "title": null}}}
        },
        {
          "data": {"values": [{}]},
          "mark": {"type": "rule", "color": "#0505c8", "strokeWidth": 2},
          "encoding": {"x": {"datum": 64.1, "type": "quantitative"}, "y": {"datum": 0, "type": "quantitative"}, "y2": {"datum": 212}}
        }
      ]
    },
    {
      "width": 654,
      "height": 450,
      "layer": [
        {
          "data": {"values": [{}]},
          "mark": {"type": "rule", "color": "#777777", "strokeWidth": 1},
          "encoding": {
            "x": {"datum": -0.5, "type": "quantitative", "scale": {"domain": [-0.5, 100.5], "nice": false, "zero": false, "padding": 0},
              "axis": {"values": [0,5,10,15,20,25,30,35,40,45,50,55,60,65,70,75,80,85,90,95,100], "tickCount": 200, "format": "d", "ticks": false, "tickSize": 0, "labelPadding": 15, "labelFlush": false, "labelOverlap": false, "title": "Identity Percentage", "titleFontSize": 17, "titlePadding": 14}},
            "x2": {"datum": 100.5},
            "y": {"datum": 0, "type": "quantitative", "scale": {"domain": [0, 1000], "nice": false, "padding": 0},
              "axis": {"values": [0, 100, 200, 300, 400, 500, 600, 700, 800, 900, 1000], "tickCount": 200, "format": "d", "ticks": false, "tickSize": 0, "labelPadding": 18, "labelOverlap": false, "title": "Number of Comparisons", "titlePadding": 15.5}}
          }
        },
        {
          "data": {"values": [{}]},
          "mark": {"type": "rule", "color": "#777777", "strokeWidth": 1},
          "encoding": {"x": {"datum": -0.5, "type": "quantitative"}, "y": {"datum": 0, "type": "quantitative"}, "y2": {"datum": 1000}}
        },
        {
          "data": {"name": "xt"},
          "mark": {"type": "tick", "orient": "vertical", "size": 9, "thickness": 1, "color": "#777777"},
          "encoding": {"x": {"field": "x", "type": "quantitative"}, "y": {"datum": 0, "type": "quantitative"}}
        },
        {
          "data": {"name": "yt"}, "transform": [{"filter": "datum.p === 'BL'"}],
          "mark": {"type": "tick", "orient": "horizontal", "size": 10, "thickness": 1, "color": "#777777"},
          "encoding": {"x": {"datum": -0.5, "type": "quantitative"}, "y": {"field": "y", "type": "quantitative"}}
        },
        {
          "data": {"name": "boxes"}, "transform": [{"filter": "datum.p === 'BL'"}],
          "mark": {"type": "rect", "color": "#ffff00"},
          "encoding": {"x": {"field": "x", "type": "quantitative"}, "x2": {"field": "x2"}, "y": {"field": "y", "type": "quantitative"}, "y2": {"field": "y2"}}
        },
        {
          "data": {"name": "curve"}, "transform": [{"filter": "datum.p === 'BL'"}],
          "mark": {"type": "line", "color": "#000000", "strokeWidth": 3, "interpolate": "monotone"},
          "encoding": {"x": {"field": "x", "type": "quantitative"}, "y": {"field": "y", "type": "quantitative"}}
        },
        {
          "data": {"name": "spans"}, "transform": [{"filter": "datum.p === 'BL' && datum.k === 'out'"}],
          "mark": {"type": "rule", "color": "#1414c8", "strokeWidth": 2},
          "encoding": {"x": {"field": "x", "type": "quantitative"}, "x2": {"field": "x2"}, "y": {"field": "y", "type": "quantitative"}}
        },
        {
          "data": {"name": "spans"}, "transform": [{"filter": "datum.p === 'BL' && datum.k !== 'out'"}],
          "mark": {"type": "rule", "color": "#2a2aa0", "strokeWidth": 2},
          "encoding": {"x": {"field": "x", "type": "quantitative"}, "x2": {"field": "x2"}, "y": {"field": "y", "type": "quantitative"}}
        },
        {
          "data": {"name": "spans"}, "transform": [{"filter": "datum.p === 'BL' && datum.k === 'out'"}, {"fold": ["x", "x2"], "as": ["side", "hx"]}],
          "mark": {"type": "point", "filled": true, "opacity": 1, "color": "#1414c8", "size": 60},
          "encoding": {"x": {"field": "hx", "type": "quantitative"}, "y": {"field": "y", "type": "quantitative"},
            "shape": {"field": "side", "type": "nominal", "scale": {"domain": ["x", "x2"], "range": ["M0,0L2,-0.9L2,0.9Z", "M0,0L-2,-0.9L-2,0.9Z"]}, "legend": null}}
        },
        {
          "data": {"name": "spans"}, "transform": [{"filter": "datum.p === 'BL' && datum.k !== 'out'"}, {"fold": ["x", "x2"], "as": ["side", "hx"]}],
          "mark": {"type": "point", "filled": true, "opacity": 1, "color": "#0c0cdc", "size": 330},
          "encoding": {"x": {"field": "hx", "type": "quantitative"}, "y": {"field": "y", "type": "quantitative"},
            "shape": {"field": "side", "type": "nominal", "scale": {"domain": ["x", "x2"], "range": ["M0,0L2,-0.55L2,0.55Z", "M0,0L-2,-0.55L-2,0.55Z"]}, "legend": null}}
        },
        {
          "data": {"name": "notes"}, "transform": [{"filter": "datum.p === 'BL' && (datum.k === 'og' || datum.k === 'ogr')"}],
          "mark": {"type": "text", "align": "left", "baseline": "middle", "font": "Liberation Sans", "fontWeight": "bold", "fontSize": 13, "color": "#000000"},
          "encoding": {"x": {"field": "x", "type": "quantitative"}, "y": {"field": "y", "type": "quantitative"}, "text": {"field": "t"}}
        },
        {
          "data": {"name": "notes"}, "transform": [{"filter": "datum.p === 'BL' && (datum.k === 'sp' || datum.k === 'spr' || datum.k === 'isor')"}],
          "mark": {"type": "text", "align": "center", "baseline": "middle", "font": "Liberation Sans", "fontWeight": "bold", "fontSize": 14, "color": "#000000"},
          "encoding": {"x": {"field": "x", "type": "quantitative"}, "y": {"field": "y", "type": "quantitative"}, "text": {"field": "t"}}
        },
        {
          "data": {"name": "notes"}, "transform": [{"filter": "datum.p === 'BL' && datum.k === 'iso'"}],
          "mark": {"type": "text", "align": "center", "baseline": "middle", "font": "Liberation Sans", "fontWeight": "bold", "fontSize": 17, "color": "#000000"},
          "encoding": {"x": {"field": "x", "type": "quantitative"}, "y": {"field": "y", "type": "quantitative"}, "text": {"field": "t"}}
        },
        {
          "data": {"name": "bars"}, "transform": [{"filter": "datum.p === 'BL'"}],
          "mark": {"type": "bar", "size": 4.5},
          "encoding": {"x": {"field": "x", "type": "quantitative"}, "y": {"field": "y", "type": "quantitative"},
            "color": {"datum": "Begomo-OW DNA-B", "type": "nominal", "scale": {"range": ["#1fae1f"]}, "legend": {"orient": "none", "legendX": 13, "legendY": -2, "title": null}}}
        },
        {
          "data": {"name": "jumps"}, "transform": [{"filter": "datum.p === 'BL' && datum.id === 'a'"}],
          "mark": {"type": "line", "color": "#178a17", "strokeWidth": 5.5, "clip": false, "strokeJoin": "miter"},
          "encoding": {"x": {"field": "x", "type": "quantitative"}, "y": {"field": "y", "type": "quantitative"}, "order": {"field": "s"}}
        },
        {
          "data": {"name": "jumps"}, "transform": [{"filter": "datum.p === 'BL' && datum.id !== 'a'"}],
          "mark": {"type": "line", "color": "#22aa15", "strokeWidth": 5.5, "clip": false, "strokeJoin": "miter"},
          "encoding": {"x": {"field": "x", "type": "quantitative"}, "y": {"field": "y", "type": "quantitative"}, "detail": {"field": "id"}, "order": {"field": "s"}}
        },
        {
          "data": {"name": "tips"}, "transform": [{"filter": "datum.p === 'BL' && datum.id === 'a'"}],
          "mark": {"type": "point", "filled": true, "opacity": 1, "color": "#178a17", "size": 1600, "shape": "M0,0L-0.65,-2L0,-1.2L0.65,-2Z"},
          "encoding": {"x": {"field": "x", "type": "quantitative"}, "y": {"field": "y", "type": "quantitative"}}
        },
        {
          "data": {"name": "tips"}, "transform": [{"filter": "datum.p === 'BL' && datum.id !== 'a'"}],
          "mark": {"type": "point", "filled": true, "opacity": 1, "color": "#22aa15", "size": 1600, "shape": "M0,0L-0.65,-2L0,-1.2L0.65,-2Z"},
          "encoding": {"x": {"field": "x", "type": "quantitative"}, "y": {"field": "y", "type": "quantitative"}}
        }
      ]
    },
    {
      "width": 654,
      "height": 450,
      "layer": [
        {
          "data": {"values": [{}]},
          "mark": {"type": "rule", "color": "#777777", "strokeWidth": 1},
          "encoding": {
            "x": {"datum": -0.5, "type": "quantitative", "scale": {"domain": [-0.5, 100.5], "nice": false, "zero": false, "padding": 0},
              "axis": {"values": [0,5,10,15,20,25,30,35,40,45,50,55,60,65,70,75,80,85,90,95,100], "tickCount": 200, "format": "d", "ticks": false, "tickSize": 0, "labelPadding": 15, "labelFlush": false, "labelOverlap": false, "title": "Identity Percentage", "titleFontSize": 17, "titlePadding": 14}},
            "x2": {"datum": 100.5},
            "y": {"datum": 0, "type": "quantitative", "scale": {"domain": [0, 300], "nice": false, "padding": 0},
              "axis": {"values": [0, 50, 100, 150, 200, 250, 300], "tickCount": 200, "format": "d", "ticks": false, "tickSize": 0, "labelPadding": 17, "labelOverlap": false, "title": "Number of Comparisons", "titlePadding": 17}}
          }
        },
        {
          "data": {"values": [{}]},
          "mark": {"type": "rule", "color": "#777777", "strokeWidth": 1},
          "encoding": {"x": {"datum": -0.5, "type": "quantitative"}, "y": {"datum": 0, "type": "quantitative"}, "y2": {"datum": 300}}
        },
        {
          "data": {"name": "xt"},
          "mark": {"type": "tick", "orient": "vertical", "size": 9, "thickness": 1, "color": "#777777"},
          "encoding": {"x": {"field": "x", "type": "quantitative"}, "y": {"datum": 0, "type": "quantitative"}}
        },
        {
          "data": {"name": "yt"}, "transform": [{"filter": "datum.p === 'BR'"}],
          "mark": {"type": "tick", "orient": "horizontal", "size": 10, "thickness": 1, "color": "#777777"},
          "encoding": {"x": {"datum": -0.5, "type": "quantitative"}, "y": {"field": "y", "type": "quantitative"}}
        },
        {
          "data": {"name": "boxes"}, "transform": [{"filter": "datum.p === 'BR'"}],
          "mark": {"type": "rect", "color": "#ffff00"},
          "encoding": {"x": {"field": "x", "type": "quantitative"}, "x2": {"field": "x2"}, "y": {"field": "y", "type": "quantitative"}, "y2": {"field": "y2"}}
        },
        {
          "data": {"name": "curve"}, "transform": [{"filter": "datum.p === 'BR'"}],
          "mark": {"type": "line", "color": "#000000", "strokeWidth": 3, "interpolate": "monotone"},
          "encoding": {"x": {"field": "x", "type": "quantitative"}, "y": {"field": "y", "type": "quantitative"}}
        },
        {
          "data": {"name": "spans"}, "transform": [{"filter": "datum.p === 'BR' && datum.k === 'out'"}],
          "mark": {"type": "rule", "color": "#1414c8", "strokeWidth": 2},
          "encoding": {"x": {"field": "x", "type": "quantitative"}, "x2": {"field": "x2"}, "y": {"field": "y", "type": "quantitative"}}
        },
        {
          "data": {"name": "spans"}, "transform": [{"filter": "datum.p === 'BR' && datum.k !== 'out'"}],
          "mark": {"type": "rule", "color": "#2a2aa0", "strokeWidth": 2},
          "encoding": {"x": {"field": "x", "type": "quantitative"}, "x2": {"field": "x2"}, "y": {"field": "y", "type": "quantitative"}}
        },
        {
          "data": {"name": "spans"}, "transform": [{"filter": "datum.p === 'BR' && datum.k === 'out'"}, {"fold": ["x", "x2"], "as": ["side", "hx"]}],
          "mark": {"type": "point", "filled": true, "opacity": 1, "color": "#1414c8", "size": 60},
          "encoding": {"x": {"field": "hx", "type": "quantitative"}, "y": {"field": "y", "type": "quantitative"},
            "shape": {"field": "side", "type": "nominal", "scale": {"domain": ["x", "x2"], "range": ["M0,0L2,-0.9L2,0.9Z", "M0,0L-2,-0.9L-2,0.9Z"]}, "legend": null}}
        },
        {
          "data": {"name": "spans"}, "transform": [{"filter": "datum.p === 'BR' && datum.k !== 'out'"}, {"fold": ["x", "x2"], "as": ["side", "hx"]}],
          "mark": {"type": "point", "filled": true, "opacity": 1, "color": "#0c0cdc", "size": 200},
          "encoding": {"x": {"field": "hx", "type": "quantitative"}, "y": {"field": "y", "type": "quantitative"},
            "shape": {"field": "side", "type": "nominal", "scale": {"domain": ["x", "x2"], "range": ["M0,0L2,-0.6L2,0.6Z", "M0,0L-2,-0.6L-2,0.6Z"]}, "legend": null}}
        },
        {
          "data": {"name": "notes"}, "transform": [{"filter": "datum.p === 'BR' && (datum.k === 'og' || datum.k === 'ogr')"}],
          "mark": {"type": "text", "align": "left", "baseline": "middle", "font": "Liberation Sans", "fontWeight": "bold", "fontSize": 13, "color": "#000000"},
          "encoding": {"x": {"field": "x", "type": "quantitative"}, "y": {"field": "y", "type": "quantitative"}, "text": {"field": "t"}}
        },
        {
          "data": {"name": "notes"}, "transform": [{"filter": "datum.p === 'BR' && (datum.k === 'sp' || datum.k === 'spr' || datum.k === 'isor')"}],
          "mark": {"type": "text", "align": "center", "baseline": "middle", "font": "Liberation Sans", "fontWeight": "bold", "fontSize": 14, "color": "#000000"},
          "encoding": {"x": {"field": "x", "type": "quantitative"}, "y": {"field": "y", "type": "quantitative"}, "text": {"field": "t"}}
        },
        {
          "data": {"name": "notes"}, "transform": [{"filter": "datum.p === 'BR' && datum.k === 'iso'"}],
          "mark": {"type": "text", "align": "center", "baseline": "middle", "font": "Liberation Sans", "fontWeight": "bold", "fontSize": 17, "color": "#000000"},
          "encoding": {"x": {"field": "x", "type": "quantitative"}, "y": {"field": "y", "type": "quantitative"}, "text": {"field": "t"}}
        },
        {
          "data": {"name": "bars"}, "transform": [{"filter": "datum.p === 'BR'"}],
          "mark": {"type": "bar", "size": 4.5},
          "encoding": {"x": {"field": "x", "type": "quantitative"}, "y": {"field": "y", "type": "quantitative"},
            "color": {"datum": "Begomo-NW DNA-B", "type": "nominal", "scale": {"range": ["#0505c8"]}, "legend": {"orient": "none", "legendX": 16, "legendY": 0, "title": null}}}
        },
        {
          "data": {"name": "jumps"}, "transform": [{"filter": "datum.p === 'BR'"}],
          "mark": {"type": "line", "color": "#1f1ff0", "strokeWidth": 5.5, "clip": false, "strokeJoin": "miter"},
          "encoding": {"x": {"field": "x", "type": "quantitative"}, "y": {"field": "y", "type": "quantitative"}, "detail": {"field": "id"}, "order": {"field": "s"}}
        },
        {
          "data": {"name": "tips"}, "transform": [{"filter": "datum.p === 'BR'"}],
          "mark": {"type": "point", "filled": true, "opacity": 1, "color": "#1f1ff0", "size": 1500, "shape": "M0,0L-0.65,-2L0,-1.2L0.65,-2Z"},
          "encoding": {"x": {"field": "x", "type": "quantitative"}, "y": {"field": "y", "type": "quantitative"}}
        }
      ]
    }
  ],
  "config": {
    "view": {"stroke": null},
    "font": "Liberation Sans",
    "axis": {
      "labelFont": "Liberation Sans", "labelFontSize": 13, "labelFontWeight": "bold", "labelColor": "#000000",
      "titleFont": "Liberation Sans", "titleFontSize": 15.5, "titleFontWeight": "bold", "titleColor": "#000000",
      "domain": false, "grid": false, "labelOverlap": false
    },
    "legend": {
      "labelFont": "Liberation Sans", "labelFontSize": 11.5, "labelFontWeight": "bold", "labelColor": "#000000",
      "symbolType": "square", "symbolSize": 121, "symbolStrokeWidth": 0, "symbolOpacity": 1,
      "strokeColor": "#888888", "fillColor": "#ffffff", "padding": 6, "labelOffset": 7
    }
  }
}
